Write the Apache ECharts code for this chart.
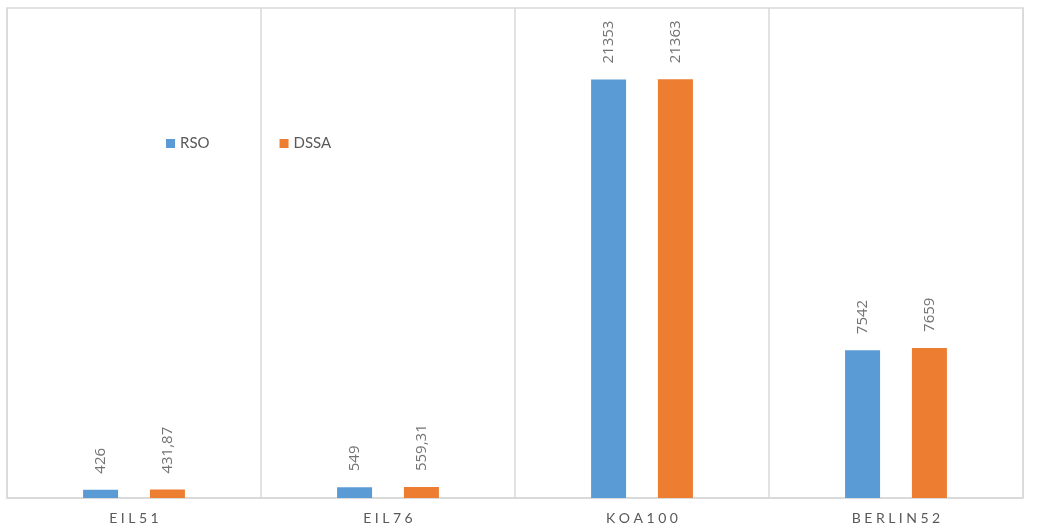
<!DOCTYPE html>
<html>
<head>
<meta charset="utf-8">
<script src="https://cdn.jsdelivr.net/npm/echarts@6/dist/echarts.min.js"></script>
<style>html,body{margin:0;padding:0;background:#fff}#c{width:1039px;height:530px}</style>
</head>
<body>
<div id="c"></div>
<script>
const categories = ['EIL51', 'EIL76', 'KOA100', 'BERLIN52'];
const rsoValues = [426, 549, 21353, 7542];
const dssaValues = [431.87, 559.31, 21363, 7659];
const seriesNames = ['RSO', 'DSSA'];

const chart = echarts.init(document.getElementById('c'));
const fmt = p => String(p.value).replace('.', ',');
const lbl = {
  show: true, position: 'top', rotate: 90, align: 'left', verticalAlign: 'middle',
  distance: 16, color: '#737373', fontSize: 15, fontFamily: 'Open Sans', formatter: fmt
};
chart.setOption({
  animation: false,
  textStyle: { fontFamily: 'Lato' },
  legend: {
    left: 161, top: 131, itemWidth: 9, itemHeight: 9, itemGap: 70, icon: 'rect',
    textStyle: { color: '#595959', fontSize: 15, fontFamily: 'Lato' },
    data: seriesNames
  },
  grid: { left: 7, right: 16, top: 8, bottom: 32, show: true, borderColor: '#d9d9d9', borderWidth: 1.5 },
  xAxis: {
    type: 'category', data: categories,
    axisLine: { lineStyle: { color: '#d9d9d9', width: 1.5 } },
    axisTick: { show: false },
    splitLine: { show: true, lineStyle: { color: '#d9d9d9', width: 1.5 } },
    axisLabel: {
      color: '#595959', fontSize: 14, margin: 13, fontFamily: 'Lato',
      formatter: v => v.split('').join('\u2009\u2009')
    }
  },
  yAxis: {
    type: 'value', min: 0, max: 25000, interval: 5000,
    axisLabel: { show: false }, axisLine: { show: false }, axisTick: { show: false },
    splitLine: { show: false }
  },
  series: [
    { name: seriesNames[0], type: 'bar', data: rsoValues, barWidth: 35, barGap: '91%',
      itemStyle: { color: '#5B9BD5' }, label: lbl },
    { name: seriesNames[1], type: 'bar', data: dssaValues, barWidth: 35,
      itemStyle: { color: '#ED7D31' }, label: lbl }
  ]
});
</script>
</body>
</html>
